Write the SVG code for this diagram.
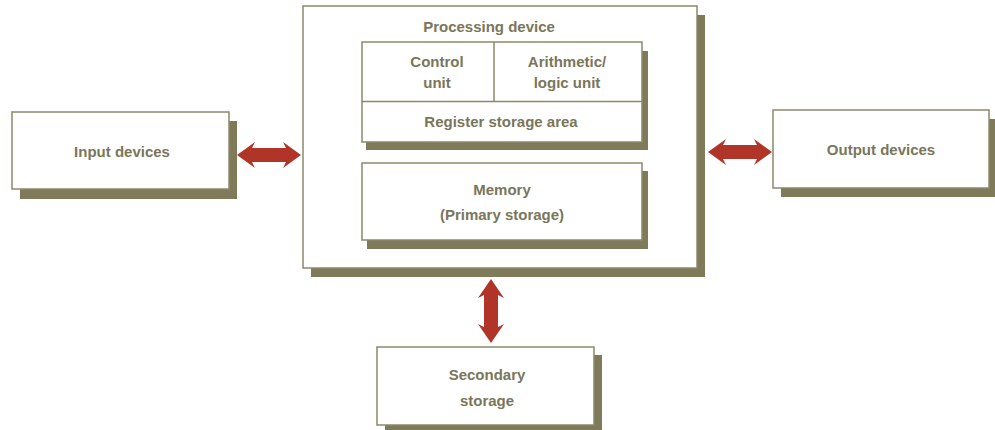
<svg xmlns="http://www.w3.org/2000/svg" width="995" height="430" viewBox="0 0 995 430">
<style>
.box{fill:#ffffff;stroke:#8c8969;stroke-width:1.5}
.shadow{fill:#7f7a5a}
.div{stroke:#8c8969;stroke-width:1.5;fill:none}
.lbl{font-family:"Liberation Sans",Arial,sans-serif;font-weight:bold;font-size:15px;fill:#7a765a;text-anchor:middle}
.arrow{fill:#b03428}
</style>
<rect width="995" height="430" fill="#ffffff"/>
<g id="processing">
<rect class="shadow" x="311" y="15" width="394" height="262"/>
<rect class="box" x="303" y="6" width="394" height="262"/>
<text class="lbl" x="489" y="32">Processing device</text>
</g>
<g id="cpu">
<rect class="shadow" x="366" y="51" width="282" height="99"/>
<rect class="box" x="362" y="42" width="280" height="100"/>
<line class="div" x1="362" y1="101.5" x2="642" y2="101.5"/>
<line class="div" x1="494" y1="42" x2="494" y2="101.5"/>
</g>
<g id="control-unit">
<text class="lbl" x="437" y="67">Control</text>
<text class="lbl" x="437" y="88">unit</text>
</g>
<g id="alu">
<text class="lbl" x="567" y="67">Arithmetic/</text>
<text class="lbl" x="567" y="88">logic unit</text>
</g>
<g id="register">
<text class="lbl" x="501" y="127">Register storage area</text>
</g>
<g id="memory">
<rect class="shadow" x="367" y="171" width="281" height="78"/>
<rect class="box" x="362" y="163" width="280" height="77"/>
<text class="lbl" x="502" y="195">Memory</text>
<text class="lbl" x="502" y="220">(Primary storage)</text>
</g>
<g id="input">
<rect class="shadow" x="20" y="121" width="217" height="78"/>
<rect class="box" x="12" y="112" width="217" height="77"/>
<text class="lbl" x="122" y="157">Input devices</text>
</g>
<g id="output">
<rect class="shadow" x="781" y="119" width="214" height="78"/>
<rect class="box" x="773" y="110" width="216" height="78"/>
<text class="lbl" x="881" y="155">Output devices</text>
</g>
<g id="secondary">
<rect class="shadow" x="385" y="355" width="217" height="75"/>
<rect class="box" x="377" y="347" width="217" height="78"/>
<text class="lbl" x="487" y="380">Secondary</text>
<text class="lbl" x="487" y="406">storage</text>
</g>
<g id="connectors">
<polygon class="arrow" points="237,155 255,142 252,148 286,148 283,142 301,155 283,168 286,162 252,162 255,168"/>
<polygon class="arrow" points="708,152 726,139 723,145 757,145 754,139 772,152 754,165 757,159 723,159 726,165"/>
<polygon class="arrow" points="491,279 504,298 498,295 498,327 504,324 491,343 478,324 484,327 484,295 478,298"/>
</g>
</svg>
